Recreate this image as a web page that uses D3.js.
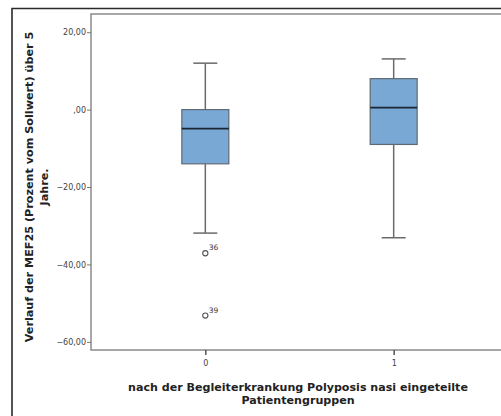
<!DOCTYPE html>
<html>
<head>
<meta charset="utf-8">
<script src="https://cdn.jsdelivr.net/npm/d3@7"></script>
<style>
  html, body { margin: 0; padding: 0; background: #fff; }
  svg { display: block; }
</style>
</head>
<body>
<svg id="chart" width="501" height="416"></svg>
<script>
// Patient groups and their five-number summaries (MEF25 change, % of predicted)
const groups = ["0", "1"];
const whiskerLow = [-31.9, -33.1];
const q1 = [-14.0, -9.0];
const median = [-4.9, 0.5];
const q3 = [0.0, 8.0];
const whiskerHigh = [12.0, 13.1];

// Outliers: group, value, case number
const outlierGroup = ["0", "0"];
const outlierValue = [-37.1, -53.2];
const outlierCase = ["36", "39"];

const yTicks = [20, 0, -20, -40, -60];
const yTitleLines = ["Verlauf der MEF25 (Prozent vom Sollwert) über 5", "Jahre."];
const xTitleLines = ["nach der Begleiterkrankung Polyposis nasi eingeteilte", "Patientengruppen"];

const svg = d3.select("#chart");
const font = "'Lucida Grande', 'DejaVu Sans', 'Open Sans', sans-serif";

const plot = { left: 91, top: 14, right: 508, bottom: 350 };

const y = d3.scaleLinear().domain([-62.1, 24.7]).range([plot.bottom, plot.top]);
const x = d3.scalePoint().domain(groups).range([plot.left, plot.right]).padding(0.607);

// outer frame
svg.append("path")
  .attr("d", `M12,420 L12,8.5 L510,8.5`)
  .attr("fill", "none").attr("stroke", "#2a2a2a").attr("stroke-width", 1.6);

// plot frame
svg.append("rect")
  .attr("x", plot.left).attr("y", plot.top)
  .attr("width", plot.right - plot.left).attr("height", plot.bottom - plot.top)
  .attr("fill", "none").attr("stroke", "#8a8a8a").attr("stroke-width", 1.5);

// y axis
const yAxis = svg.append("g")
  .attr("transform", `translate(${plot.left},0)`)
  .call(d3.axisLeft(y).tickValues(yTicks).tickSize(4).tickSizeOuter(0)
    .tickFormat(d => d === 0 ? ",00" : d3.format(".2f")(d).replace(".", ",")));
yAxis.select(".domain").remove();
yAxis.selectAll(".tick line").attr("stroke", "#777").attr("stroke-width", 1);
yAxis.selectAll(".tick text")
  .attr("font-family", font).attr("font-size", 8).attr("fill", "#444").attr("x", -5);

// x axis
const xAxis = svg.append("g")
  .attr("transform", `translate(0,${plot.bottom})`)
  .call(d3.axisBottom(x).tickSize(5).tickSizeOuter(0));
xAxis.select(".domain").remove();
xAxis.selectAll(".tick line").attr("stroke", "#555").attr("stroke-width", 1.5);
xAxis.selectAll(".tick text")
  .attr("font-family", font).attr("font-size", 8).attr("fill", "#444").attr("dy", "0.95em");

// boxes
const boxW = 47, capW = 24;
const data = groups.map((g, i) => ({
  g, lo: whiskerLow[i], q1: q1[i], med: median[i], q3: q3[i], hi: whiskerHigh[i]
}));

const box = svg.append("g").selectAll("g").data(data).join("g");

box.append("line")
  .attr("x1", d => x(d.g)).attr("x2", d => x(d.g))
  .attr("y1", d => y(d.hi)).attr("y2", d => y(d.q3))
  .attr("stroke", "#6a6a6a").attr("stroke-width", 1.5);
box.append("line")
  .attr("x1", d => x(d.g)).attr("x2", d => x(d.g))
  .attr("y1", d => y(d.q1)).attr("y2", d => y(d.lo))
  .attr("stroke", "#6a6a6a").attr("stroke-width", 1.5);
box.append("line")
  .attr("x1", d => x(d.g) - capW / 2).attr("x2", d => x(d.g) + capW / 2)
  .attr("y1", d => y(d.hi)).attr("y2", d => y(d.hi))
  .attr("stroke", "#6a6a6a").attr("stroke-width", 1.5);
box.append("line")
  .attr("x1", d => x(d.g) - capW / 2).attr("x2", d => x(d.g) + capW / 2)
  .attr("y1", d => y(d.lo)).attr("y2", d => y(d.lo))
  .attr("stroke", "#6a6a6a").attr("stroke-width", 1.5);
box.append("rect")
  .attr("x", d => x(d.g) - boxW / 2).attr("width", boxW)
  .attr("y", d => y(d.q3)).attr("height", d => y(d.q1) - y(d.q3))
  .attr("fill", "#79a8d4").attr("stroke", "#5f6a75").attr("stroke-width", 1.2);
box.append("line")
  .attr("x1", d => x(d.g) - boxW / 2).attr("x2", d => x(d.g) + boxW / 2)
  .attr("y1", d => y(d.med)).attr("y2", d => y(d.med))
  .attr("stroke", "#1b2633").attr("stroke-width", 1.8);

// outliers
const outliers = outlierValue.map((v, i) => ({ g: outlierGroup[i], v, c: outlierCase[i] }));
const out = svg.append("g").selectAll("g").data(outliers).join("g");
out.append("circle")
  .attr("cx", d => x(d.g)).attr("cy", d => y(d.v)).attr("r", 2.6)
  .attr("fill", "none").attr("stroke", "#555").attr("stroke-width", 1.1);
out.append("text")
  .attr("x", d => x(d.g) + 3.5).attr("y", d => y(d.v) - 3)
  .attr("font-family", font).attr("font-size", 7.5).attr("fill", "#333")
  .text(d => d.c);

// y title
const yt = svg.append("text")
  .attr("transform", `translate(33,187) rotate(-90)`)
  .attr("text-anchor", "middle")
  .attr("font-family", font).attr("font-size", 11.2).attr("font-weight", "bold").attr("fill", "#222");
yTitleLines.forEach((t, i) => yt.append("tspan").attr("x", 0).attr("dy", i === 0 ? 0 : "1.35em").text(t));

// x title
const xt = svg.append("text")
  .attr("x", 298).attr("y", 391)
  .attr("text-anchor", "middle")
  .attr("font-family", font).attr("font-size", 11.1).attr("font-weight", "bold").attr("fill", "#222");
xTitleLines.forEach((t, i) => xt.append("tspan").attr("x", 298).attr("dy", i === 0 ? 0 : "1.2em").text(t));
</script>
</body>
</html>
